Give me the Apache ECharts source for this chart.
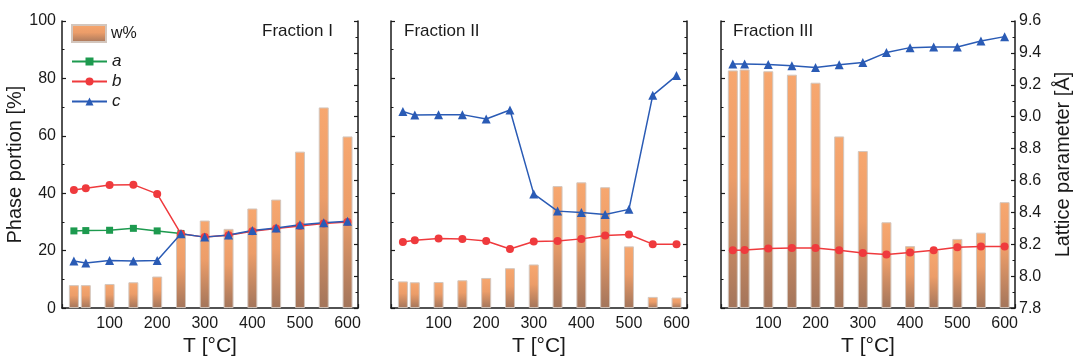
<!DOCTYPE html>
<html>
<head>
<meta charset="utf-8">
<script src="https://cdn.jsdelivr.net/npm/echarts@6/dist/echarts.min.js"></script>
<style>
  html, body { margin: 0; padding: 0; background: #fff; }
  #chart { width: 1074px; height: 362px; }
</style>
</head>
<body>
<div id="chart"></div>
<script>
// Temperatures (°C)
const temps = [25, 50, 100, 150, 200, 250, 300, 350, 400, 450, 500, 550, 600];

// Phase portion w% of each fraction
const wI   = [8.0, 8.0, 8.4, 9.0, 11.0, 26.2, 30.5, 27.6, 34.7, 37.8, 54.5, 69.9, 59.8];
const wII  = [9.3, 9.0, 9.1, 9.7, 10.5, 13.9, 15.2, 42.5, 43.8, 42.1, 21.5, 3.9, 3.7];
const wIII = [82.8, 83.1, 82.5, 81.3, 78.5, 59.8, 54.7, 29.9, 21.6, 20.0, 24.1, 26.3, 36.9];

// Lattice parameters (Å)
const aI   = [8.284, 8.286, 8.288, 8.300, 8.284, 8.268];
const bI   = [8.540, 8.552, 8.572, 8.574, 8.516, 8.266, 8.245, 8.257, 8.282, 8.299, 8.315, 8.331, 8.340];
const cI   = [8.095, 8.083, 8.099, 8.095, 8.099, 8.266, 8.245, 8.259, 8.286, 8.302, 8.322, 8.335, 8.344];
const bII  = [8.214, 8.225, 8.237, 8.234, 8.221, 8.171, 8.218, 8.221, 8.234, 8.255, 8.261, 8.201, 8.200];
const cII  = [9.033, 9.010, 9.013, 9.013, 8.986, 9.042, 8.516, 8.408, 8.399, 8.387, 8.419, 9.134, 9.258];
const bIII = [8.163, 8.165, 8.173, 8.177, 8.177, 8.163, 8.146, 8.136, 8.148, 8.163, 8.181, 8.186, 8.186];
const cIII = [9.330, 9.330, 9.328, 9.319, 9.309, 9.325, 9.340, 9.402, 9.433, 9.437, 9.437, 9.475, 9.502];

const panelTitles = ['Fraction I', 'Fraction II', 'Fraction III'];

const FONT = 'Liberation Sans, Arial, sans-serif';
const INK = '#1a1a1a';
const GREEN = '#1d9a4f';
const RED = '#ef3a3d';
const BLUE = '#2a5bb5';

const pair = (xs, ys) => ys.map((y, i) => [xs[i], y]);

const barFill = new echarts.graphic.LinearGradient(0, 0, 0, 1, [
  { offset: 0, color: '#f7a76f' },
  { offset: 0.45, color: '#ec9d69' },
  { offset: 1, color: '#a3755b' }
]);

const grids = [
  { left: 62, right: 716, top: 21, bottom: 51 },
  { left: 391, right: 387, top: 21, bottom: 51 },
  { left: 721, right: 59, top: 21, bottom: 51 }
];

const axisLine = { show: true, lineStyle: { color: INK, width: 1.5 } };
const tick = { show: true, inside: true, length: 4, lineStyle: { color: INK, width: 1.2 } };
const minorTick = { show: true, splitNumber: 2, length: 2.5, lineStyle: { color: INK, width: 1 } };
const labelStyle = { color: INK, fontSize: 16, fontFamily: FONT };

const xAxes = grids.map((g, i) => ({
  type: 'value', gridIndex: i, min: 0, max: 622, interval: 100,
  axisLine, axisTick: tick, minorTick, splitLine: { show: false },
  axisLabel: Object.assign({ margin: 7, showMaxLabel: false,
    formatter: v => (v > 0 && v % 100 === 0) ? String(v) : '' }, labelStyle),
  name: 'T [°C]', nameLocation: 'middle', nameGap: 26,
  nameTextStyle: { color: INK, fontSize: 21, fontFamily: FONT }
}));

const yAxes = [];
grids.forEach((g, i) => {
  yAxes.push({
    type: 'value', gridIndex: i, position: 'left', min: 0, max: 100, interval: 20,
    axisLine, axisTick: tick, minorTick, splitLine: { show: false },
    axisLabel: Object.assign({ show: i === 0, margin: 6 }, labelStyle),
    name: i === 0 ? 'Phase portion [%]' : '', nameLocation: 'middle', nameGap: 30,
    nameTextStyle: { color: INK, fontSize: 20, fontFamily: FONT }
  });
  yAxes.push({
    type: 'value', gridIndex: i, position: 'right', min: 7.8, max: 9.6, interval: 0.2,
    axisLine, axisTick: tick, minorTick, splitLine: { show: false },
    axisLabel: Object.assign({ show: i === 2, margin: 4, formatter: v => v.toFixed(1) }, labelStyle),
    name: i === 2 ? 'Lattice parameter [Å]' : '', nameLocation: 'middle', nameGap: 38,
    nameRotate: 90,
    nameTextStyle: { color: INK, fontSize: 20, fontFamily: FONT }
  });
});

function barSeries(i, values) {
  return {
    name: 'w%', type: 'bar', xAxisIndex: i, yAxisIndex: 2 * i,
    data: pair(temps, values), barWidth: 10, z: 1,
    itemStyle: { color: barFill, borderColor: '#d3c6bd', borderWidth: 1 }
  };
}

function lineSeries(i, name, values, color, symbol, size) {
  return {
    name, type: 'line', xAxisIndex: i, yAxisIndex: 2 * i + 1,
    data: pair(temps, values), symbol, symbolSize: size, z: 3,
    lineStyle: { color, width: 1.5 }, itemStyle: { color },
    emphasis: { disabled: true }
  };
}

const series = [
  barSeries(0, wI), barSeries(1, wII), barSeries(2, wIII),
  lineSeries(0, 'a', aI, GREEN, 'rect', 7),
  lineSeries(0, 'b', bI, RED, 'circle', 8),
  lineSeries(0, 'c', cI, BLUE, 'triangle', 9),
  lineSeries(1, 'b', bII, RED, 'circle', 8),
  lineSeries(1, 'c', cII, BLUE, 'triangle', 9),
  lineSeries(2, 'b', bIII, RED, 'circle', 8),
  lineSeries(2, 'c', cIII, BLUE, 'triangle', 9)
];

const titleLeft = [262, 404, 733];
const titles = panelTitles.map((t, i) => ({
  text: t, left: titleLeft[i], top: 23, padding: 0,
  textStyle: { color: INK, fontSize: 17, fontWeight: 'normal', fontFamily: FONT }
}));

const chart = echarts.init(document.getElementById('chart'), null, { renderer: 'canvas' });
chart.setOption({
  animation: false,
  backgroundColor: '#fff',
  title: titles,
  grid: grids,
  xAxis: xAxes,
  yAxis: yAxes,
  legend: [
    {
      data: ['w%'], left: 71, top: 24, padding: 0, orient: 'vertical',
      icon: 'rect', itemWidth: 34, itemHeight: 17, itemGap: 5, selectedMode: false,
      textStyle: { color: INK, fontSize: 16, fontFamily: FONT }
    },
    {
      data: ['a', 'b', 'c'], left: 71, top: 53, padding: 0, orient: 'vertical',
      itemWidth: 35, itemHeight: 10, itemGap: 3, selectedMode: false,
      textStyle: { color: INK, fontSize: 17, fontStyle: 'italic', fontFamily: FONT, lineHeight: 17 }
    }
  ],
  series
});
</script>
</body>
</html>
